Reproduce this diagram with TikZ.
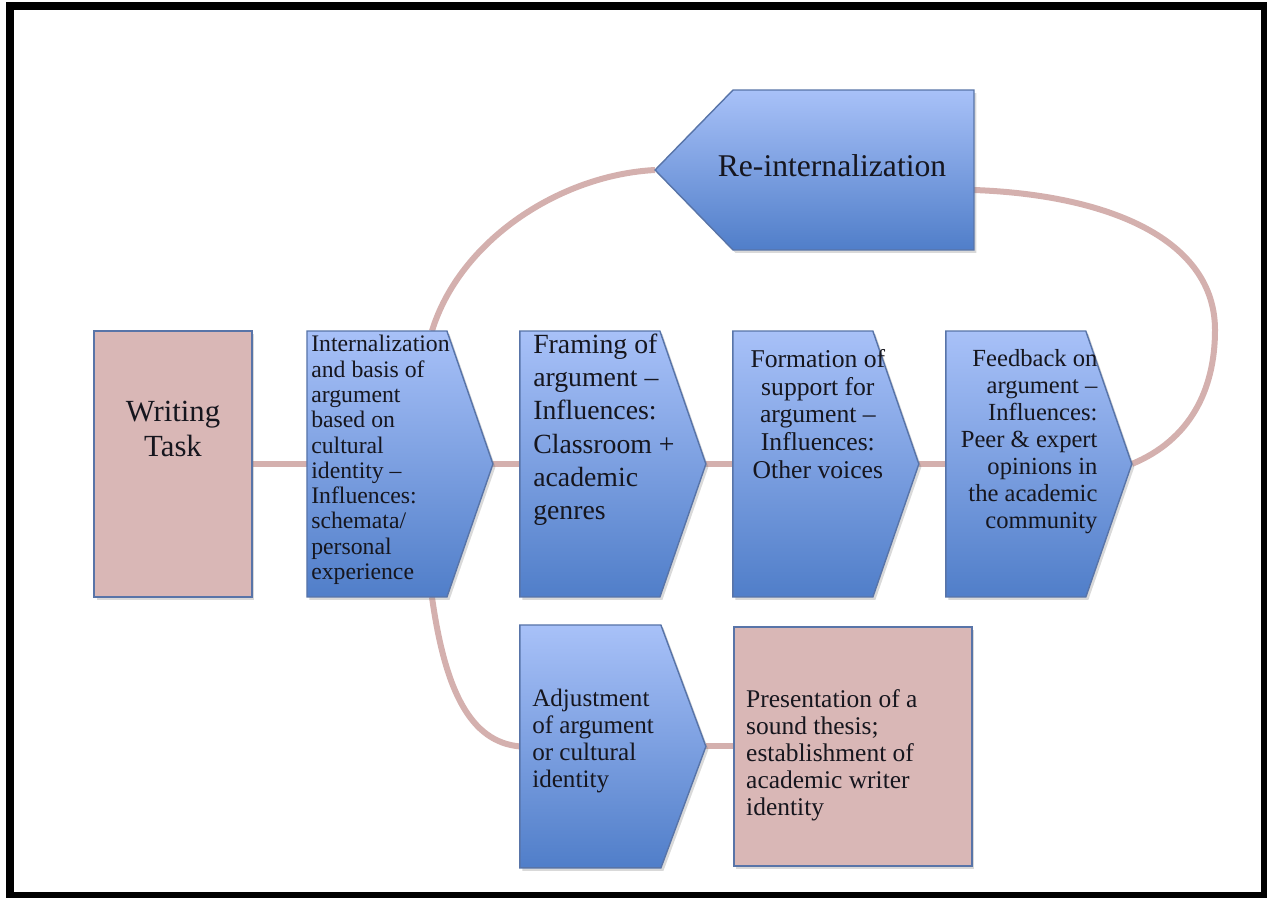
\documentclass[tikz,border=0pt]{standalone}
\usepackage{fontspec}
\setmainfont{Liberation Serif}
\usetikzlibrary{positioning, shadows}

\definecolor{blueTop}{RGB}{168,193,248}
\definecolor{blueBot}{RGB}{80,126,201}
\definecolor{pinkFill}{RGB}{217,183,182}
\definecolor{edgeBlue}{RGB}{88,116,168}
\definecolor{linkRose}{RGB}{212,176,174}
\definecolor{inkDark}{RGB}{22,22,30}

\tikzset{
	stage/.style={inner sep=0pt, outer sep=0pt, minimum width=3.72cm, minimum height=5.32cm},
	chev/.style={draw=edgeBlue, line width=0.8pt, top color=blueTop, bottom color=blueBot,
		drop shadow={shadow xshift=0.05cm, shadow yshift=-0.06cm, opacity=0.3}},
	sheet/.style={draw=edgeBlue, line width=0.8pt, fill=pinkFill,
		drop shadow={shadow xshift=0.05cm, shadow yshift=-0.06cm, opacity=0.3}},
	link/.style={draw=linkRose, line width=0.12cm},
	words/.style={inner sep=0pt, text=inkDark}
}

\begin{document}
\begin{tikzpicture}[x=0.02cm, y=-0.02cm, node distance=0.54cm]
	\useasboundingbox (0,0) rectangle (1267,898);
	\draw[line width=0.16cm] (10,6) rectangle (1265,896);

	% outlines of the stages
	\node[stage, minimum width=3.16cm] (task) at (173,464) {};
	\node[stage] (intern) [right=1.1cm of task] {};
	\node[stage] (framing) [right=of intern] {};
	\node[stage] (formation) [right=of framing] {};
	\node[stage] (feedback) [right=of formation] {};
	\node[stage, minimum height=4.86cm] (adjust) [below=0.56cm of framing] {};
	\node[stage, minimum width=4.76cm, minimum height=4.78cm] (present) [right=0.56cm of adjust] {};
	\node[stage, minimum width=6.38cm, minimum height=3.2cm] (reint) at (814.5,170) {};

	% connectors
	\path[link] (task.east) -- (intern.west)
		(intern.east) -- (framing.west)
		(framing.east) -- (formation.west)
		(formation.east) -- (feedback.west)
		(adjust.east) -- (present.west);
	\path[link] (feedback.east) .. controls (1190,440) and (1215,390) .. (1215,330)
		.. controls (1215,240) and (1110,195) .. ([yshift=-0.4cm]reint.east);
	\path[link] ([xshift=0.64cm]intern.north) .. controls (460,240) and (560,175) .. (reint.west);
	\path[link] ([xshift=0.64cm]intern.south) .. controls (445,690) and (470,742) .. (adjust.west);

	% stage shapes
	\path[sheet] (task.north west) rectangle (task.south east);
	\path[chev] (intern.north west) -- ([xshift=-0.92cm]intern.north east) -- (intern.east)
		-- ([xshift=-0.92cm]intern.south east) -- (intern.south west) -- cycle;
	\path[chev] (framing.north west) -- ([xshift=-0.92cm]framing.north east) -- (framing.east)
		-- ([xshift=-0.92cm]framing.south east) -- (framing.south west) -- cycle;
	\path[chev] (formation.north west) -- ([xshift=-0.92cm]formation.north east) -- (formation.east)
		-- ([xshift=-0.92cm]formation.south east) -- (formation.south west) -- cycle;
	\path[chev] (feedback.north west) -- ([xshift=-0.92cm]feedback.north east) -- (feedback.east)
		-- ([xshift=-0.92cm]feedback.south east) -- (feedback.south west) -- cycle;
	\path[chev] (adjust.north west) -- ([xshift=-0.9cm]adjust.north east) -- (adjust.east)
		-- ([xshift=-0.9cm]adjust.south east) -- (adjust.south west) -- cycle;
	\path[sheet] (present.north west) rectangle (present.south east);
	\path[chev] (reint.west) -- ([xshift=1.56cm]reint.north west) -- (reint.north east)
		-- (reint.south east) -- ([xshift=1.56cm]reint.south west) -- cycle;

	% texts
	\node[words, align=center, anchor=north, font=\fontsize{17.5}{20}\selectfont] (task-t)
		at ([yshift=-1.4cm]task.north) {Writing\\Task};
	\node[words, align=left, anchor=north west, font=\fontsize{13.5}{14.4}\selectfont] (intern-t)
		at ([xshift=0.08cm, yshift=-0.08cm]intern.north west)
		{Internalization\\and basis of\\argument\\based on\\cultural\\identity –\\Influences:\\schemata/\\personal\\experience};
	\node[words, align=left, anchor=north west, font=\fontsize{15.8}{18.8}\selectfont] (framing-t)
		at ([xshift=0.26cm, yshift=-0.06cm]framing.north west)
		{Framing of\\argument –\\Influences:\\Classroom +\\academic\\genres};
	\node[words, align=center, anchor=north, font=\fontsize{14.6}{15.8}\selectfont] (formation-t)
		at ([xshift=-0.16cm, yshift=-0.36cm]formation.north)
		{Formation of\\support for\\argument –\\Influences:\\Other voices};
	\node[words, align=right, anchor=north east, font=\fontsize{14}{15.4}\selectfont] (feedback-t)
		at ([xshift=-0.68cm, yshift=-0.36cm]feedback.north east)
		{Feedback on\\argument –\\Influences:\\Peer \& expert\\opinions in\\the academic\\community};
	\node[words, align=left, anchor=north west, font=\fontsize{14.3}{15.4}\selectfont] (adjust-t)
		at ([xshift=0.24cm, yshift=-1.28cm]adjust.north west)
		{Adjustment\\of argument\\or cultural\\identity};
	\node[words, align=left, anchor=north west, font=\fontsize{14.5}{15.4}\selectfont] (present-t)
		at ([xshift=0.24cm, yshift=-1.24cm]present.north west)
		{Presentation of a\\sound thesis;\\establishment of\\academic writer\\identity};
	\node[words, font=\fontsize{18}{20}\selectfont] (reint-t)
		at ([xshift=0.35cm, yshift=0.08cm]reint.center) {Re-internalization};
\end{tikzpicture}
\end{document}
